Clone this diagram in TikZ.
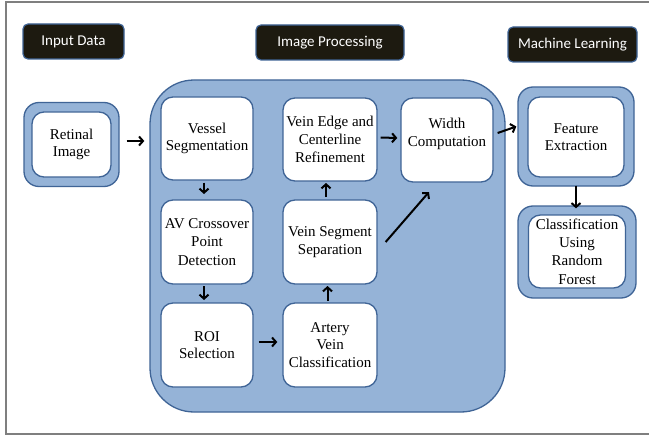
\documentclass[tikz,border=0pt]{standalone}
\usepackage{fontspec}
\setmainfont{Liberation Serif}
\newfontfamily\hdrfont{Carlito}
\usetikzlibrary{arrows.meta}
\definecolor{bfill}{HTML}{95B3D7}
\definecolor{bline}{HTML}{3F6496}
\definecolor{hdrfill}{HTML}{1D1A10}
\definecolor{framegray}{HTML}{7F7F7F}
\begin{document}
\begin{tikzpicture}[x=1pt,y=-1pt,
  hdr/.style={draw=bline, line width=1.2pt, fill=hdrfill, rounded corners=5pt, text=white,
    font=\hdrfont\fontsize{15}{17}\selectfont, inner sep=0pt},
  wbox/.style={draw=bline, line width=1.3pt, fill=white, rounded corners=12pt, align=center,
    font=\fontsize{15}{17.5}\selectfont, inner sep=0pt},
  wtext/.style={align=center, font=\fontsize{15}{17.5}\selectfont, inner sep=0pt},
  ring/.style={draw=bline, line width=1.3pt, fill=bfill, rounded corners=15pt, inner sep=0pt},
  arr/.style={line width=2pt, -{Straight Barb[length=4pt,width=9pt,line width=2pt]}},
]
\useasboundingbox (0,0) rectangle (649,436);
\fill[white] (0,0) rectangle (649,436);
\draw[framegray, line width=1.5pt] (649,2) -- (6,2) -- (6,434) -- (649,434);

% headers
\node[hdr, minimum width=101pt, minimum height=35pt] (hin) at (73.5,41.5) {Input Data};
\node[hdr, minimum width=148pt, minimum height=35pt] (hip) at (330,42.5) {Image Processing};
\node[hdr, minimum width=129pt, minimum height=35pt] (hml) at (572.5,44.5) {Machine Learning};

% big processing region
\node[draw=bline, line width=1.3pt, fill=bfill, rounded corners=44pt, minimum width=355pt,
  minimum height=332pt, inner sep=0pt] (big) at (327.5,246) {};

% retinal image
\node[ring, minimum width=95pt, minimum height=84pt] (retout) at (71.5,144.5) {};
\node[wbox, minimum width=79pt, minimum height=65pt] (ret) at (71.5,144.5) {Retinal\\Image};

% inner boxes
\node[wbox, minimum width=92pt, minimum height=83pt] (ves) at (207,138.5) {Vessel\\Segmentation};
\node[wbox, minimum width=92pt, minimum height=84pt, font=\fontsize{15}{18.5}\selectfont] (avc) at (207,242) {AV Crossover\\Point\\Detection};
\node[wbox, minimum width=92pt, minimum height=84pt] (roi) at (207,345) {ROI\\Selection};
\node[wbox, minimum width=94pt, minimum height=83pt, font=\fontsize{15}{18}\selectfont] (vee) at (330,139.5) {Vein Edge and\\Centerline\\Refinement};
\node[wbox, minimum width=94pt, minimum height=84pt] (vss) at (330,242) {Vein Segment\\Separation};
\node[wbox, minimum width=94pt, minimum height=84pt] (avcl) at (330,345) {Artery\\Vein\\Classification};
\node[wbox, minimum width=92pt, minimum height=84pt] (wid) at (447,140) {};
\node[wtext] (widt) at ([yshift=6pt]wid.center) {Width\\Computation};

% machine learning
\node[ring, minimum width=116pt, minimum height=99pt] (feout) at (576,136.5) {};
\node[wbox, minimum width=96pt, minimum height=80pt] (fe) at (576,137) {Feature\\Extraction};
\node[ring, minimum width=118pt, minimum height=92pt] (clout) at (577,252) {};
\node[wbox, minimum width=97pt, minimum height=73pt, font=\fontsize{15}{18.3}\selectfont] (cl) at (577,251.5) {Classification\\Using\\Random\\Forest};

% arrows
\draw[arr] ([xshift=7pt,yshift=3.5pt]retout.east) -- ([xshift=-5pt,yshift=-2.5pt]big.west |- ves.west);
\draw[arr] ([yshift=-2pt]ves.south -| 204,0) -- (204,194);
\draw[arr] (204,286) -- (204,300);
\draw[arr] ([xshift=5pt,yshift=3pt]roi.east) -- ([xshift=-5pt,yshift=3pt]avcl.west);
\draw[arr] (327.5,301) -- (327.5,286);
\draw[arr] (326,197) -- (326,183);
\draw[arr] ([xshift=3pt,yshift=2pt]vee.east) -- ([xshift=-3pt,yshift=2pt]wid.west);
\draw[arr] ([xshift=8pt]vss.east) -- (429,192);
\draw[arr] ([xshift=4pt,yshift=7pt]wid.east) -- ([xshift=-1pt,yshift=10pt]feout.west);
\draw[arr] ([yshift=1pt]feout.south -| fe.south) -- ([yshift=-3pt]clout.north -| fe.south);
\end{tikzpicture}
\end{document}
